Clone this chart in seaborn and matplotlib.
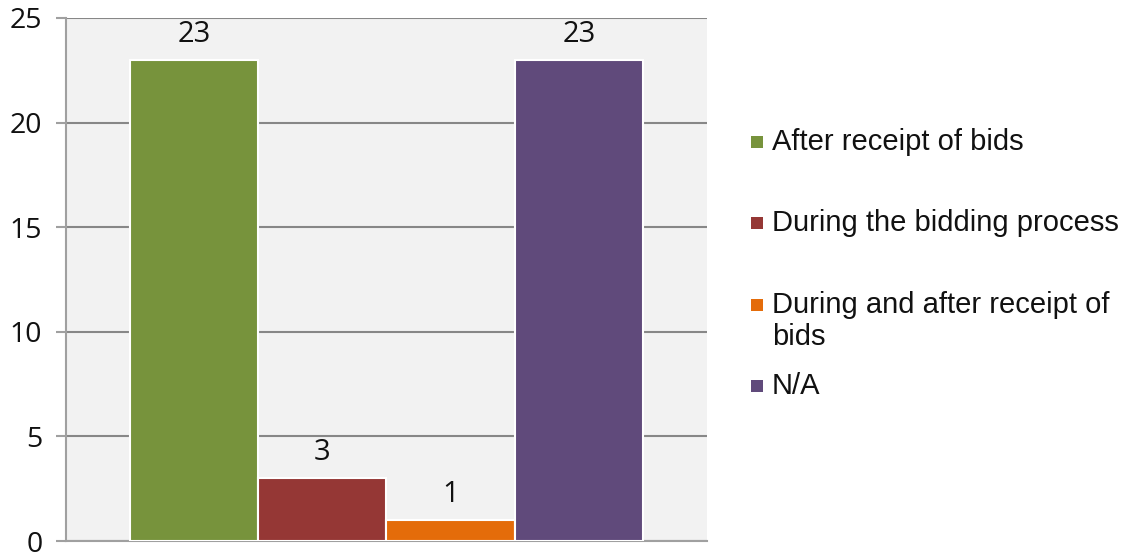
import matplotlib
matplotlib.use("Agg")
import matplotlib.pyplot as plt
from matplotlib.patches import Rectangle
import seaborn as sns
import pandas as pd

# Survey responses: when the tender was modified
timings = [
    "After receipt of bids",
    "During the bidding process",
    "During and after receipt of\nbids",
    "N/A",
]
counts = [23, 3, 1, 23]
colors = ["#77933C", "#953735", "#E46C0A", "#604A7B"]
y_ticks = [0, 5, 10, 15, 20, 25]

df = pd.DataFrame({"group": [""] * len(timings), "timing": timings, "count": counts})

sns.set_theme(style="white")
plt.rcParams["font.family"] = ["Open Sans", "DejaVu Sans"]

W, H = 1124, 554
fig = plt.figure(figsize=(W / 100, H / 100), dpi=100)
ax = fig.add_axes([66 / W, 1 - 541 / H, (707 - 66) / W, (541 - 18) / H])
ax.set_facecolor("#F2F2F2")

sns.barplot(
    data=df, x="group", y="count", hue="timing", hue_order=timings,
    palette=colors, saturation=1, width=0.8, edgecolor="white",
    linewidth=1.5, legend=False, ax=ax, zorder=3,
)

for cont in ax.containers:
    ax.bar_label(cont, padding=8, fontsize=21, color="#111111")

ax.set_ylim(0, 25)
ax.set_xlim(-0.5, 0.5)
ax.set_yticks(y_ticks)
ax.set_xticks([])
ax.set_xlabel("")
ax.set_ylabel("")
ax.yaxis.grid(True, color="#878787", linewidth=1.5, zorder=0)
ax.set_axisbelow(True)
for side in ["top", "right"]:
    ax.spines[side].set_visible(False)
for side in ["left", "bottom"]:
    ax.spines[side].set_color("#A0A0A0")
    ax.spines[side].set_linewidth(1.5)
ax.tick_params(axis="y", which="major", direction="out", length=7,
               width=1.5, color="#A0A0A0", labelsize=20.5, pad=10,
               labelcolor="#111111", left=True)

# Legend drawn by hand so the entries keep a fixed pitch
step = 81.3
line_gap = 32
legend_font = ["Liberation Sans", "DejaVu Sans"]
for i, (label, col) in enumerate(zip(timings, colors)):
    base = 150 + step * i
    fig.add_artist(Rectangle((751 / W, 1 - (base - 2) / H), 12 / W, 12 / H,
                             transform=fig.transFigure, facecolor=col,
                             edgecolor="none"))
    for k, line in enumerate(label.split("\n")):
        fig.text(772 / W, 1 - (base + k * line_gap) / H, line, fontsize=21,
                 va="baseline", ha="left", family=legend_font,
                 color="#111111")

fig.savefig("out.png", dpi=100)
